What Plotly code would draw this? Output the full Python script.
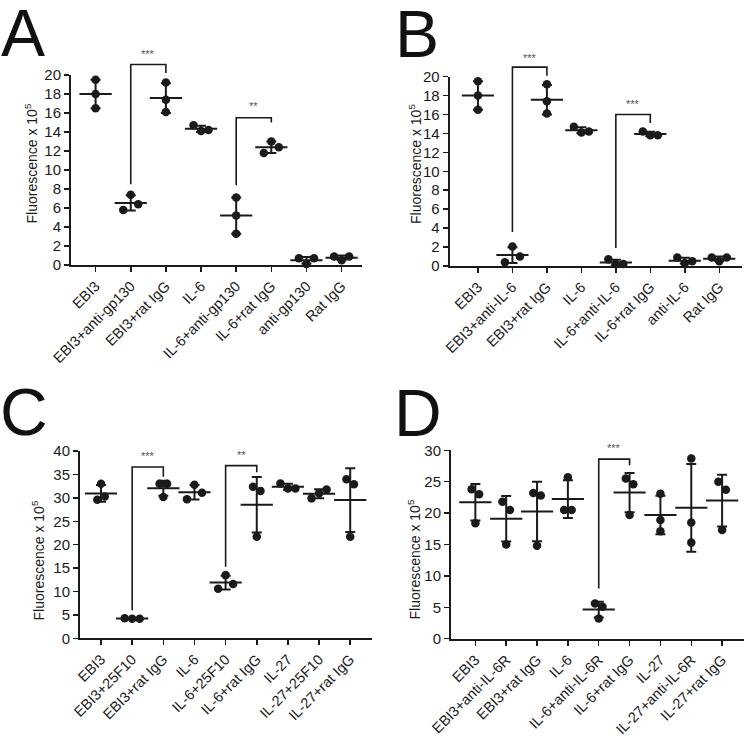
import numpy as np
import plotly.graph_objects as go

W, H = 745, 736
FONT = "Liberation Sans, Arial, Helvetica, sans-serif"
INK = "#1a1a1a"

# ---------------- data ----------------
labels_A = ["EBI3", "EBI3+anti-gp130", "EBI3+rat IgG", "IL-6", "IL-6+anti-gp130",
            "IL-6+rat IgG", "anti-gp130", "Rat IgG"]
values_A = [[19.5, 18.0, 16.5], [5.8, 7.4, 6.4], [19.2, 17.4, 16.1], [14.7, 14.1, 14.2],
            [7.1, 5.2, 3.3], [11.8, 13.0, 12.4], [0.7, 0.1, 0.7], [0.9, 0.5, 0.9]]

labels_B = ["EBI3", "EBI3+anti-IL-6", "EBI3+rat IgG", "IL-6", "IL-6+anti-IL-6",
            "IL-6+rat IgG", "anti-IL-6", "Rat IgG"]
values_B = [[19.5, 18.0, 16.5], [0.4, 2.05, 1.0], [19.2, 17.4, 16.1], [14.7, 14.1, 14.2],
            [0.7, 0.2, 0.2], [14.2, 13.8, 13.8], [0.9, 0.3, 0.5], [0.9, 0.5, 0.9]]

labels_C = ["EBI3", "EBI3+25F10", "EBI3+rat IgG", "IL-6", "IL-6+25F10", "IL-6+rat IgG",
            "IL-27", "IL-27+25F10", "IL-27+rat IgG"]
values_C = [[33.0, 29.6, 30.3], [4.3, 4.2, 4.2], [33.0, 30.2, 33.0], [29.7, 32.8, 31.1],
            [10.6, 13.5, 11.6], [32.4, 21.7, 31.5], [33.1, 32.0, 32.0], [29.9, 31.0, 31.8],
            [34.0, 21.7, 32.9]]

labels_D = ["EBI3", "EBI3+anti-IL-6R", "EBI3+rat IgG", "IL-6", "IL-6+anti-IL-6R",
            "IL-6+rat IgG", "IL-27", "IL-27+anti-IL-6R", "IL-27+rat IgG"]
values_D = [[23.8, 18.4, 23.0], [21.8, 15.0, 20.5], [23.2, 14.8, 22.8], [20.5, 25.7, 20.5],
            [5.6, 3.2, 5.1], [25.5, 19.7, 24.6], [23.1, 18.9, 17.1], [28.7, 18.5, 15.3],
            [25.0, 17.3, 23.7]]

yticks_A = [0, 2, 4, 6, 8, 10, 12, 14, 16, 18, 20]
yticks_B = [0, 2, 4, 6, 8, 10, 12, 14, 16, 18, 20]
yticks_C = [0, 5, 10, 15, 20, 25, 30, 35, 40]
yticks_D = [0, 5, 10, 15, 20, 25, 30]

# significance brackets: (from, to, left leg bottom, top, right leg bottom, star level, label)
sig_A = [(1, 2, 8.5, 21.1, 20.2, 22.2, "***"), (4, 5, 8.4, 15.5, 15.0, 16.7, "**")]
sig_B = [(1, 2, 3.6, 21.0, 20.1, 22.0, "***"), (4, 5, 1.9, 16.0, 15.1, 17.1, "***")]
sig_C = [(1, 2, 6.0, 36.6, 34.5, 39.0, "***"), (4, 5, 15.3, 36.9, 35.5, 39.1, "**")]
sig_D = [(4, 5, 8.0, 28.6, 27.6, 30.3, "***")]

ytitle = "Fluorescence x 10<sup>5</sup>"

# ---------------- layout geometry (pixels) ----------------
panels = [
    dict(letter="A", labels=labels_A, values=values_A, yticks=yticks_A, sig=sig_A,
         xpx=(71, 362), xr=(-0.70, 7.58), y0=265.0, ppu=9.5, yext=23.5,
         lpos=(22.5, 33), tpos=(31.5, 164)),
    dict(letter="B", labels=labels_B, values=values_B, yticks=yticks_B, sig=sig_B,
         xpx=(449.7, 742), xr=(-0.82, 7.66), y0=266.0, ppu=9.47, yext=23.5,
         lpos=(417, 34), tpos=(415, 164)),
    dict(letter="C", labels=labels_C, values=values_C, yticks=yticks_C, sig=sig_C,
         xpx=(80, 371.7), xr=(-0.675, 8.69), y0=638.3, ppu=4.68, yext=41.5,
         lpos=(23.5, 411.5), tpos=(38.5, 561)),
    dict(letter="D", labels=labels_D, values=values_D, yticks=yticks_D, sig=sig_D,
         xpx=(451, 743.7), xr=(-0.79, 8.70), y0=638.7, ppu=6.28, yext=32.0,
         lpos=(417.5, 412.5), tpos=(414.5, 560)),
]


def swarm_offsets(vals, ppu, ppc, thr=10.5, step=7.5):
    vals = np.asarray(vals, float)
    order = np.argsort(vals, kind="stable")
    clusters = [[order[0]]]
    for a, b in zip(order[:-1], order[1:]):
        if (vals[b] - vals[a]) * ppu < thr:
            clusters[-1].append(b)
        else:
            clusters.append([b])
    off = np.zeros(len(vals))
    for c in clusters:
        c = sorted(c)
        n = len(c)
        for j, i in enumerate(c):
            off[i] = (j - (n - 1) / 2) * step / ppc
    return off


fig = go.Figure()
layout = dict(template="none", width=W, height=H, autosize=False,
              margin=dict(l=0, r=0, t=0, b=0, pad=0),
              paper_bgcolor="white", plot_bgcolor="rgba(0,0,0,0)", showlegend=False,
              font=dict(family=FONT, color=INK, size=13))
annotations = []

for k, p in enumerate(panels, start=1):
    xs = "" if k == 1 else str(k)
    ys = "" if k == 1 else str(k)
    ye = str(k + 4)
    n = len(p["labels"])
    x0, x1 = p["xpx"]
    ppc = (x1 - x0) / (p["xr"][1] - p["xr"][0])
    ytop = p["yticks"][-1]
    bottom = (H - p["y0"]) / H
    top_disp = bottom + ytop * p["ppu"] / H
    top_ext = bottom + p["yext"] * p["ppu"] / H

    layout["xaxis" + xs] = dict(
        domain=[x0 / W, x1 / W], range=list(p["xr"]), anchor="y" + ys, automargin=False,
        tickvals=list(range(n)), ticktext=p["labels"], tickangle=-45,
        ticks="outside", ticklen=5, tickwidth=1.5, tickcolor=INK,
        showline=True, linewidth=2, linecolor=INK, showgrid=False, zeroline=False,
        tickfont=dict(family=FONT, size=14.5, color=INK), fixedrange=True)
    layout["yaxis" + ys] = dict(
        domain=[bottom, top_disp], range=[0, ytop], anchor="x" + xs, automargin=False,
        tickvals=p["yticks"], ticks="outside", ticklen=5, tickwidth=1.5, tickcolor=INK,
        showline=True, linewidth=2, linecolor=INK, showgrid=False, zeroline=False,
        tickfont=dict(family=FONT, size=15, color=INK), fixedrange=True)
    layout["yaxis" + ye] = dict(
        domain=[bottom, top_ext], range=[0, p["yext"]], anchor="x" + xs, automargin=False,
        visible=False, showgrid=False, zeroline=False, fixedrange=True)

    vals = p["values"]
    means = [float(np.mean(v)) for v in vals]
    sds = [float(np.std(v, ddof=1)) for v in vals]

    # mean +/- SD
    fig.add_trace(go.Scatter(
        x=list(range(n)), y=means, mode="markers", xaxis="x" + xs, yaxis="y" + ys,
        marker=dict(symbol="line-ew", size=23, color=INK, line=dict(width=2, color=INK)),
        error_y=dict(type="data", array=sds, visible=True, thickness=2, width=5, color=INK),
        cliponaxis=False, hoverinfo="skip"))

    # individual points
    px, py = [], []
    for i, v in enumerate(vals):
        off = swarm_offsets(v, p["ppu"], ppc)
        px += list(i + off)
        py += list(v)
    fig.add_trace(go.Scatter(
        x=px, y=py, mode="markers", xaxis="x" + xs, yaxis="y" + ys,
        marker=dict(symbol="circle", size=8.5, color=INK, line=dict(width=0)),
        cliponaxis=False, hoverinfo="skip"))

    # significance brackets
    for (a, b, lb, tp, rb, sy, lab) in p["sig"]:
        fig.add_trace(go.Scatter(
            x=[a, a, b, b], y=[lb, tp, tp, rb], mode="lines",
            xaxis="x" + xs, yaxis="y" + ye,
            line=dict(color=INK, width=1.6), hoverinfo="skip"))
        annotations.append(dict(
            x=(a + b) / 2, y=sy, xref="x" + xs, yref="y" + ye, text=lab,
            showarrow=False, font=dict(family=FONT, size=11, color="#555555"),
            xanchor="center", yanchor="middle"))

    # panel letter
    annotations.append(dict(
        x=p["lpos"][0] / W, y=1 - p["lpos"][1] / H, xref="paper", yref="paper",
        text=p["letter"], showarrow=False, xanchor="center", yanchor="middle",
        font=dict(family=FONT, size=66, color="#111111")))
    # y axis title
    annotations.append(dict(
        x=p["tpos"][0] / W, y=1 - p["tpos"][1] / H, xref="paper", yref="paper",
        text=ytitle, textangle=-90, showarrow=False, xanchor="center", yanchor="middle",
        font=dict(family=FONT, size=14, color=INK)))

layout["annotations"] = annotations
fig.update_layout(**layout)
fig.write_html("out.html", config={"displayModeBar": False, "staticPlot": True},
               post_script="document.body.style.margin='0';document.body.style.overflow='hidden';")
